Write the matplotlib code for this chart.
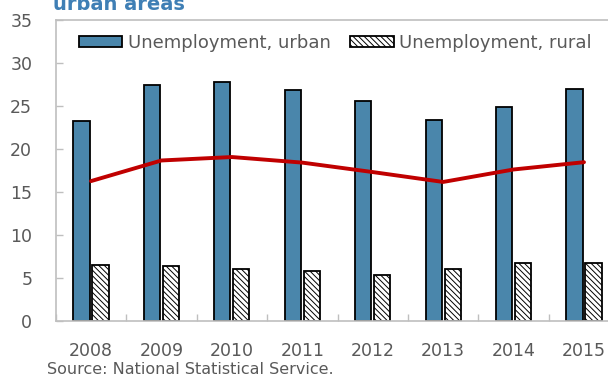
import matplotlib
matplotlib.use("Agg")
import matplotlib.pyplot as plt
import numpy as np

plt.rcParams['font.family'] = ['DejaVu Sans']
plt.rcParams['hatch.linewidth'] = 0.7

years = ["2008", "2009", "2010", "2011", "2012", "2013", "2014", "2015"]
urban = [23.2, 27.4, 27.75, 26.85, 25.6, 23.4, 24.85, 27.0]
rural = [6.5, 6.35, 6.0, 5.8, 5.3, 6.0, 6.7, 6.7]
total = [16.25, 18.65, 19.05, 18.4, 17.3, 16.15, 17.6, 18.45]
yticks = [0, 5, 10, 15, 20, 25, 30, 35]

grey = "#595959"
fig = plt.figure(figsize=(6.08, 3.79), dpi=100)
ax = fig.add_axes([55.8 / 608, 1 - 320.7 / 379, 563.4 / 608, 300.7 / 379])

x = np.arange(len(years))
w = 0.23
ax.bar(x - 0.135, urban, w, color="#4A86AB", edgecolor="black", linewidth=1.3,
       label="Unemployment, urban", zorder=2)
ax.bar(x + 0.135, rural, w, color="white", edgecolor="black", linewidth=1.3,
       hatch="\\\\\\\\\\\\", label="Unemployment, rural", zorder=2)
ax.plot(x, total, color="#C00000", linewidth=2.8, solid_capstyle="round", zorder=3)

ax.set_xlim(-0.5, len(years) - 0.5)
ax.set_ylim(0, 35)
ax.set_yticks(yticks)
ax.set_xticks(x)
ax.set_xticklabels(years)
ax.set_xticks(np.arange(len(years) + 1) - 0.5, minor=True)

for s in ["left", "bottom", "top", "right"]:
    ax.spines[s].set_color("#BFBFBF")
    ax.spines[s].set_linewidth(1.2)

ax.tick_params(axis="y", direction="in", length=5, color="#BFBFBF", width=1,
               labelsize=12.5, labelcolor=grey, pad=17)
ax.tick_params(axis="x", which="major", length=0, labelsize=12.5, labelcolor=grey, pad=15)
ax.tick_params(axis="x", which="minor", direction="in", length=5, color="#BFBFBF", width=1)

leg = ax.legend(loc="upper left", bbox_to_anchor=(0.028, 0.978), ncol=2, frameon=False,
                fontsize=13, handlelength=2.4, handleheight=0.58, handletextpad=0.3,
                columnspacing=1.1, borderaxespad=0)
for t in leg.get_texts():
    t.set_color(grey)

fig.text(53 / 608, 1 - 10 / 379, "urban areas", fontsize=14, fontweight="bold",
         color="#3F7FB5", ha="left", va="baseline")
fig.text(47 / 608, 1 - 370 / 379, "Source: National Statistical Service.", fontsize=11.5,
         color=grey, ha="left", va="center")

fig.savefig("out.png", dpi=100)
